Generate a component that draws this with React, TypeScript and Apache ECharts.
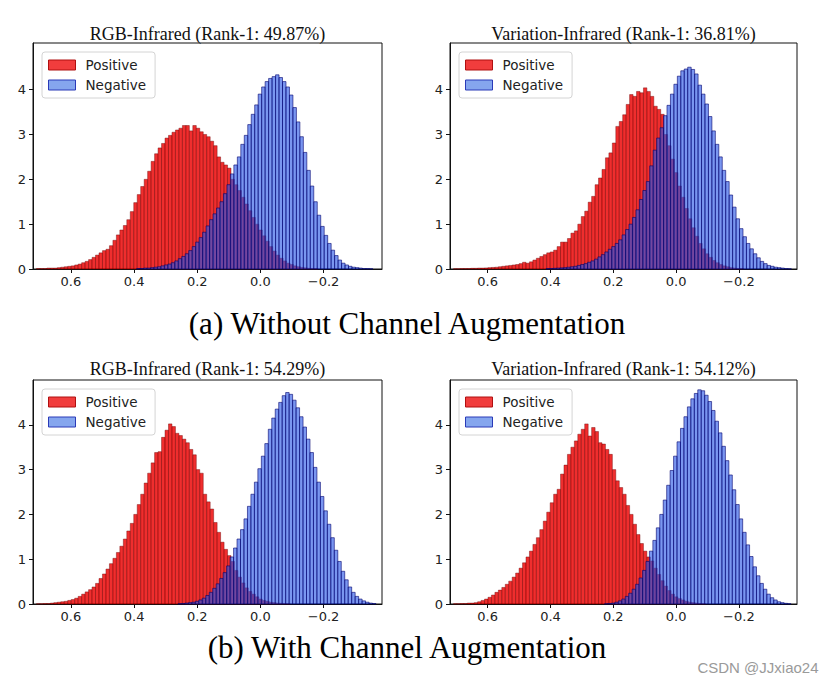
import React, { useEffect, useRef } from "react";
import * as echarts from "echarts";

// Histogram bin width on the similarity axis
const BIN_WIDTH = 0.011;

// axis ticks and ranges
const X_TICKS = [-0.2, 0.0, 0.2, 0.4, 0.6];
const Y_TICKS = [0, 1, 2, 3, 4];
const X_MIN = -0.385;
const X_MAX = 0.72;
const Y_MAX_TOP = 5.04;
const Y_MAX_BOTTOM = 5.0;

const TITLES = [
  "RGB-Infrared (Rank-1: 49.87%)",
  "Variation-Infrared (Rank-1: 36.81%)",
  "RGB-Infrared (Rank-1: 54.29%)",
  "Variation-Infrared (Rank-1: 54.12%)",
];
const CAPTIONS = ["(a) Without Channel Augmentation", "(b) With Channel Augmentation"];
const SERIES_NAMES = ["Positive", "Negative"];

// Each series: upper edge of first bin, then densities of consecutive bins going down in x
const p1PosStart = 0.709;
const p1Pos = [
  0.01, 0.01, 0.01, 0.02, 0.02, 0.02, 0.03, 0.04, 0.05, 0.06,
  0.07, 0.09, 0.11, 0.14, 0.17, 0.21, 0.26, 0.31, 0.36, 0.41,
  0.44, 0.52, 0.64, 0.76, 0.87, 0.97, 1.1, 1.28, 1.48, 1.66,
  1.84, 2.0, 2.18, 2.4, 2.57, 2.7, 2.8, 2.92, 2.98, 3.05,
  3.1, 3.14, 3.2, 3.2, 3.08, 3.2, 3.14, 3.06, 3.0, 2.95,
  2.85, 2.75, 2.5, 2.38, 2.32, 2.25, 2.0, 1.88, 1.75, 1.6,
  1.45, 1.3, 1.15, 1.0, 0.87, 0.74, 0.62, 0.5, 0.4, 0.31,
  0.24, 0.18, 0.13, 0.1, 0.07, 0.05, 0.035, 0.025, 0.015, 0.01, 0.01,
];
const p1NegStart = 0.392;
const p1Neg = [
  0.01, 0.01, 0.02, 0.02, 0.03, 0.04, 0.05, 0.07, 0.09, 0.11,
  0.14, 0.18, 0.23, 0.28, 0.34, 0.41, 0.5, 0.6, 0.7, 0.82,
  0.96, 1.1, 1.23, 1.36, 1.5, 1.68, 1.88, 2.12, 2.32, 2.5,
  2.78, 2.98, 3.22, 3.45, 3.66, 3.9, 4.06, 4.18, 4.25, 4.29,
  4.33, 4.27, 4.18, 4.06, 3.88, 3.6, 3.28, 2.95, 2.6, 2.2,
  1.85, 1.5, 1.2, 0.95, 0.75, 0.57, 0.42, 0.3, 0.2, 0.13,
  0.09, 0.06, 0.04, 0.03, 0.02, 0.01, 0.01, 0.005,
];

const p2PosStart = 0.709;
const p2Pos = [
  0.005, 0.005, 0.01, 0.01, 0.01, 0.015, 0.015, 0.02, 0.02, 0.025,
  0.03, 0.035, 0.04, 0.05, 0.06, 0.07, 0.08, 0.09, 0.1, 0.12,
  0.15, 0.13, 0.16, 0.2, 0.24, 0.28, 0.32, 0.36, 0.38, 0.42,
  0.5, 0.6, 0.6, 0.68, 0.8, 0.85, 1.0, 1.17, 1.29, 1.49,
  1.62, 1.88, 2.03, 2.22, 2.48, 2.59, 2.81, 3.18, 3.29, 3.44,
  3.67, 3.89, 3.85, 3.96, 3.93, 4.04, 3.96, 3.85, 3.63, 3.56,
  3.45, 3.0, 2.75, 2.45, 2.15, 1.85, 1.6, 1.35, 1.12, 0.92,
  0.73, 0.57, 0.45, 0.34, 0.26, 0.19, 0.14, 0.1, 0.07, 0.05,
  0.03, 0.02, 0.01, 0.01,
];
const p2NegStart = 0.414;
const p2Neg = [
  0.01, 0.01, 0.015, 0.02, 0.025, 0.03, 0.04, 0.05, 0.06, 0.08,
  0.1, 0.12, 0.15, 0.18, 0.22, 0.27, 0.32, 0.38, 0.44, 0.5,
  0.57, 0.65, 0.76, 0.88, 1.0, 1.15, 1.32, 1.55, 1.75, 1.95,
  2.3, 2.65, 2.92, 3.15, 3.42, 3.65, 3.9, 4.12, 4.3, 4.42,
  4.46, 4.5, 4.45, 4.35, 4.1, 3.9, 3.68, 3.4, 3.08, 2.78,
  2.5, 2.2, 1.95, 1.65, 1.38, 1.12, 0.9, 0.72, 0.57, 0.45,
  0.34, 0.25, 0.17, 0.12, 0.08, 0.06, 0.04, 0.03, 0.02, 0.01, 0.005,
];

const p3PosStart = 0.709;
const p3Pos = [
  0.005, 0.005, 0.01, 0.01, 0.02, 0.03, 0.04, 0.05, 0.06, 0.08,
  0.1, 0.13, 0.17, 0.22, 0.27, 0.32, 0.38, 0.46, 0.57, 0.67,
  0.78, 0.9, 1.02, 1.15, 1.29, 1.45, 1.63, 1.8, 2.0, 2.22,
  2.45, 2.7, 2.92, 3.15, 3.38, 3.4, 3.72, 3.88, 4.02, 3.96,
  3.81, 3.76, 3.68, 3.6, 3.45, 3.33, 3.0, 2.92, 2.45, 2.28,
  2.12, 1.82, 1.6, 1.38, 1.22, 1.08, 0.95, 0.75, 0.6, 0.47,
  0.36, 0.28, 0.22, 0.16, 0.11, 0.08, 0.06, 0.04, 0.03, 0.02,
  0.015, 0.01, 0.005,
];
const p3NegStart = 0.261;
const p3Neg = [
  0.005, 0.01, 0.02, 0.03, 0.04, 0.06, 0.09, 0.13, 0.19, 0.26,
  0.35, 0.45, 0.57, 0.7, 0.85, 1.05, 1.25, 1.45, 1.66, 1.9,
  2.18, 2.45, 2.72, 3.02, 3.3, 3.58, 3.9, 4.15, 4.35, 4.5,
  4.65, 4.72, 4.68, 4.55, 4.38, 4.18, 3.95, 3.68, 3.38, 3.05,
  2.72, 2.4, 2.08, 1.78, 1.48, 1.2, 0.95, 0.73, 0.54, 0.38,
  0.26, 0.17, 0.11, 0.07, 0.04, 0.02, 0.01,
];

const p4PosStart = 0.709;
const p4Pos = [
  0.005, 0.005, 0.01, 0.01, 0.02, 0.02, 0.03, 0.05, 0.08, 0.11,
  0.15, 0.2, 0.26, 0.31, 0.37, 0.44, 0.51, 0.6, 0.69, 0.8,
  0.92, 1.05, 1.18, 1.33, 1.48, 1.66, 1.85, 2.05, 2.26, 2.45,
  2.56, 2.9, 3.1, 3.34, 3.5, 3.64, 3.79, 3.9, 4.02, 3.75,
  3.94, 3.85, 3.6, 3.57, 3.45, 3.34, 3.0, 2.75, 2.6, 2.45,
  2.2, 2.0, 1.78, 1.55, 1.35, 1.18, 1.05, 0.96, 0.8, 0.66,
  0.52, 0.4, 0.3, 0.22, 0.16, 0.12, 0.09, 0.06, 0.04, 0.03,
  0.02, 0.01, 0.005,
];
const p4NegStart = 0.228;
const p4Neg = [
  0.005, 0.01, 0.02, 0.04, 0.07, 0.11, 0.17, 0.24, 0.33, 0.44,
  0.58, 0.75, 0.95, 1.18, 1.42, 1.7, 2.0, 2.32, 2.65, 2.98,
  3.3, 3.62, 3.92, 4.18, 4.4, 4.58, 4.7, 4.78, 4.76, 4.66,
  4.52, 4.32, 4.08, 3.82, 3.52, 3.2, 2.88, 2.55, 2.22, 1.9,
  1.6, 1.32, 1.06, 0.83, 0.63, 0.46, 0.33, 0.22, 0.14, 0.09,
  0.05, 0.03, 0.015, 0.005,
];

const HISTS = [
  { posStart: p1PosStart, pos: p1Pos, negStart: p1NegStart, neg: p1Neg },
  { posStart: p2PosStart, pos: p2Pos, negStart: p2NegStart, neg: p2Neg },
  { posStart: p3PosStart, pos: p3Pos, negStart: p3NegStart, neg: p3Neg },
  { posStart: p4PosStart, pos: p4Pos, negStart: p4NegStart, neg: p4Neg },
];

// Layout (pixels)
const GRIDS = [
  { left: 33, top: 43, width: 349, height: 226 },
  { left: 450, top: 43, width: 347, height: 226 },
  { left: 33, top: 380, width: 349, height: 224 },
  { left: 450, top: 380, width: 347, height: 224 },
];
const Y_MAXES = [Y_MAX_TOP, Y_MAX_TOP, Y_MAX_BOTTOM, Y_MAX_BOTTOM];
const TITLE_Y = [34, 34, 369, 369];
const CAPTION_Y = [323, 647];

const POS_FILL = "rgba(235, 0, 0, 0.82)";
const POS_EDGE = "rgba(110, 0, 0, 0.6)";
const NEG_FILL = "rgba(40, 85, 230, 0.62)";
const NEG_EDGE = "rgba(0, 0, 110, 0.85)";

function toBins(start: number, heights: number[]) {
  return heights.map((h, i) => [
    +(start - BIN_WIDTH * (i + 1)).toFixed(4),
    +(start - BIN_WIDTH * i).toFixed(4),
    h,
  ]);
}

function makeRender(fill: string, stroke: string) {
  return (params: any, api: any) => {
    const a = api.coord([api.value(0), api.value(2)]);
    const b = api.coord([api.value(1), 0]);
    return {
      type: "rect",
      shape: {
        x: Math.min(a[0], b[0]),
        y: a[1],
        width: Math.abs(b[0] - a[0]),
        height: b[1] - a[1],
      },
      style: { fill, stroke, lineWidth: 0.7 },
    };
  };
}

const fmtX = (v: number) =>
  v < -1e-9 ? "\u2212" + Math.abs(v).toFixed(1) : Math.abs(v).toFixed(1);

export default function App() {
  const ref = useRef<HTMLDivElement>(null);

  useEffect(() => {
    if (!ref.current) return;
    const chart = echarts.init(ref.current, null, { renderer: "svg" });

    const labelStyle = { fontFamily: "DejaVu Sans", fontSize: 13, color: "#222" };

    const option: any = {
      animation: false,
      backgroundColor: "#fff",
      grid: GRIDS.map((g) => ({
        ...g,
        show: true,
        borderColor: "#111",
        borderWidth: 1,
        backgroundColor: "transparent",
      })),
      xAxis: GRIDS.map((_, i) => ({
        type: "value",
        gridIndex: i,
        inverse: true,
        min: X_MIN,
        max: X_MAX,
        splitLine: { show: false },
        axisLine: { show: true, onZero: false, lineStyle: { color: "#111", width: 1 } },
        axisTick: { show: true, length: 4, customValues: X_TICKS, lineStyle: { color: "#111" } },
        axisLabel: { ...labelStyle, margin: 6, customValues: X_TICKS, formatter: fmtX },
      })),
      yAxis: GRIDS.map((_, i) => ({
        type: "value",
        gridIndex: i,
        min: 0,
        max: Y_MAXES[i],
        splitLine: { show: false },
        axisLine: { show: true, onZero: false, lineStyle: { color: "#111", width: 1 } },
        axisTick: { show: true, length: 4, customValues: Y_TICKS, lineStyle: { color: "#111" } },
        axisLabel: { ...labelStyle, margin: 7, customValues: Y_TICKS },
      })),
      legend: GRIDS.map((g) => ({
        orient: "vertical",
        left: g.left + 9,
        top: g.top + 9,
        itemWidth: 27,
        itemHeight: 10,
        itemGap: 6,
        padding: [6, 9, 6, 6],
        backgroundColor: "#fff",
        borderColor: "#d4d4d4",
        borderWidth: 1,
        borderRadius: 3,
        selectedMode: false,
        textStyle: { ...labelStyle, fontSize: 13.5, padding: [0, 0, 0, 5] },
        data: [
          {
            name: SERIES_NAMES[0],
            icon: "rect",
            itemStyle: { color: "rgba(240,40,40,0.9)", borderColor: "#b01010", borderWidth: 1 },
          },
          {
            name: SERIES_NAMES[1],
            icon: "rect",
            itemStyle: { color: "#85a6ee", borderColor: "#2a3ab8", borderWidth: 1 },
          },
        ],
      })),
      series: HISTS.flatMap((h, i) => [
        {
          type: "custom",
          name: SERIES_NAMES[0],
          xAxisIndex: i,
          yAxisIndex: i,
          renderItem: makeRender(POS_FILL, POS_EDGE),
          itemStyle: { color: POS_FILL },
          encode: { x: [0, 1], y: 2 },
          data: toBins(h.posStart, h.pos),
          z: 2,
        },
        {
          type: "custom",
          name: SERIES_NAMES[1],
          xAxisIndex: i,
          yAxisIndex: i,
          renderItem: makeRender(NEG_FILL, NEG_EDGE),
          itemStyle: { color: NEG_FILL },
          encode: { x: [0, 1], y: 2 },
          data: toBins(h.negStart, h.neg),
          z: 3,
        },
      ]),
      graphic: [
        ...GRIDS.map((g, i) => ({
          type: "text",
          x: g.left + g.width / 2,
          y: TITLE_Y[i],
          style: {
            text: TITLES[i],
            font: "18px 'Liberation Serif'",
            fill: "#111",
            textAlign: "center",
            textVerticalAlign: "middle",
          },
        })),
        ...CAPTIONS.map((c, i) => ({
          type: "text",
          x: 407,
          y: CAPTION_Y[i],
          style: {
            text: c,
            font: "31px 'Liberation Serif'",
            fill: "#000",
            textAlign: "center",
            textVerticalAlign: "middle",
          },
        })),
        {
          type: "text",
          x: 758,
          y: 667,
          style: {
            text: "CSDN @JJxiao24",
            font: "15px 'Liberation Sans'",
            fill: "#9a9a9a",
            textAlign: "center",
            textVerticalAlign: "middle",
          },
        },
      ],
    };

    chart.setOption(option);
    return () => chart.dispose();
  }, []);

  return (
    <div
      ref={ref}
      style={{ position: "fixed", left: 0, top: 0, width: 829, height: 683, background: "#fff" }}
    />
  );
}
